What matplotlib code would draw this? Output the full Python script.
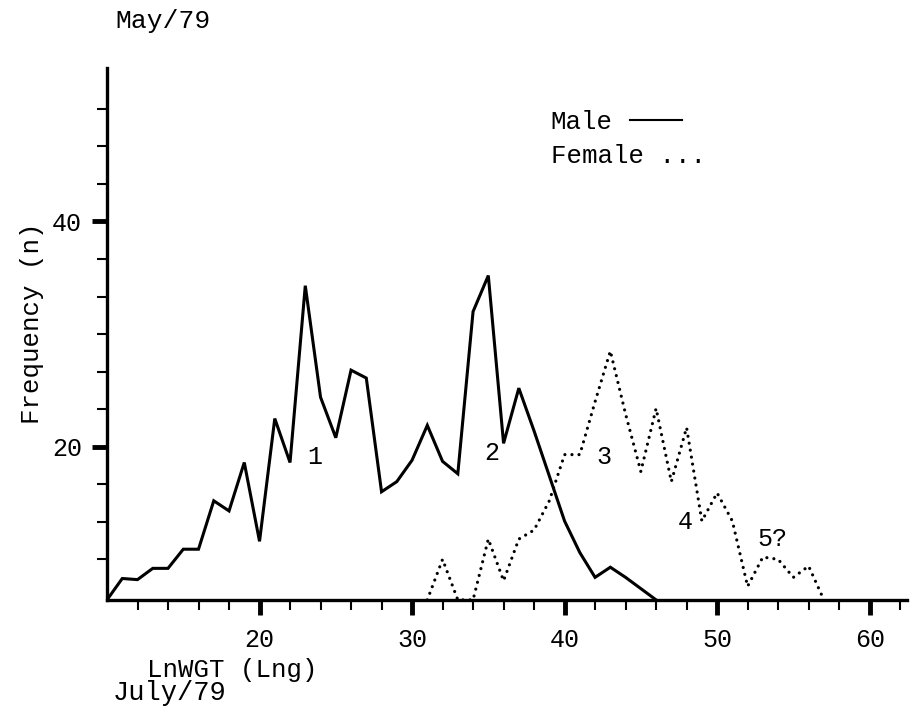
import numpy as np
import matplotlib.pyplot as plt
from matplotlib.ticker import FixedLocator, NullFormatter

# weight classes (LnWGT) and frequencies
male_x = list(range(10, 47))
male_n = [6.4, 8.3, 8.2, 9.2, 9.2, 10.9, 10.9, 15.2, 14.3, 18.6,
          11.6, 22.5, 18.6, 34.3, 24.4, 20.8, 26.8, 26.1, 16.0, 16.9,
          18.8, 21.9, 18.7, 17.6, 32.0, 35.2, 20.3, 25.2, 21.4, 17.4,
          13.4, 10.6, 8.4, 9.3, 8.4, 7.4, 6.4]

female_x = list(range(31, 58))
female_n = [6.4, 10.0, 6.4, 6.4, 11.8, 8.1, 11.8, 12.6, 15.2, 19.3,
            19.3, 24.0, 28.5, 22.9, 17.8, 23.4, 16.9, 21.7, 13.4, 15.9,
            13.4, 7.6, 10.2, 10.0, 8.4, 9.4, 6.4]

# cohort numbers written next to the modes
mode_labels = ['1', '2', '3', '4', '5?']
mode_x = [23.6, 35.2, 42.6, 47.9, 53.6]
mode_y = [19.1, 19.4, 19.1, 13.3, 11.8]

mono = 'Liberation Mono'

fig = plt.figure(figsize=(9.15, 7.12), dpi=100)
ax = fig.add_axes([107 / 915, 1 - 600 / 712, 800 / 915, 532 / 712])

ax.plot(male_x, male_n, color='black', lw=2.2, solid_joinstyle='miter')
ax.plot(female_x, female_n, color='black', lw=2.3,
        linestyle=(0, (0.01, 2.2)), dash_capstyle='round')

for lab, x, y in zip(mode_labels, mode_x, mode_y):
    ax.text(x, y, lab, fontsize=18, family=mono, ha='center', va='center')

ax.set_xlim(10, 62.45)
ax.set_ylim(6.39, 53.63)

for side in ['top', 'right']:
    ax.spines[side].set_visible(False)
for side in ['left', 'bottom']:
    ax.spines[side].set_linewidth(2.4)

ax.xaxis.set_major_locator(FixedLocator([20, 30, 40, 50, 60]))
ax.xaxis.set_minor_locator(FixedLocator([x for x in range(12, 63, 2) if x % 10]))
ax.yaxis.set_major_locator(FixedLocator([20, 40]))
ax.yaxis.set_minor_locator(FixedLocator([v for v in np.arange(10, 51, 10 / 3)
                                         if abs(v - 20) > 0.1 and abs(v - 40) > 0.1]))
ax.xaxis.set_minor_formatter(NullFormatter())
ax.yaxis.set_minor_formatter(NullFormatter())

ax.tick_params(which='major', direction='out', length=11, width=3.5,
               labelsize=18, color='black')
ax.tick_params(which='minor', direction='out', length=7, width=1.5, color='black')
ax.tick_params(axis='x', which='major', pad=9)
ax.tick_params(axis='y', which='major', pad=7)
for lab in ax.get_xticklabels() + ax.get_yticklabels():
    lab.set_family(mono)

# key written as plain text
ax.text(39.1, 48.2, 'Male', fontsize=18.5, family=mono, va='baseline')
ax.plot([44.3, 47.7], [49.0, 49.0], color='black', lw=1.5)
ax.text(39.1, 45.2, 'Female ...', fontsize=18.5, family=mono, va='baseline')

fig.text(32 / 915, 1 - 323 / 712, 'Frequency (n)', rotation=90, fontsize=18.5,
         family=mono, ha='center', va='center')
fig.text(147 / 915, 1 - 677 / 712, 'LnWGT (Lng)', fontsize=18.5, family=mono,
         va='baseline')
fig.text(113 / 915, 1 - 700 / 712, 'July/79', fontsize=19.5, family=mono,
         va='baseline')
fig.text(115 / 915, 1 - 28 / 712, 'May/79', fontsize=19, family=mono,
         va='baseline')

fig.savefig('out.png', dpi=100)
